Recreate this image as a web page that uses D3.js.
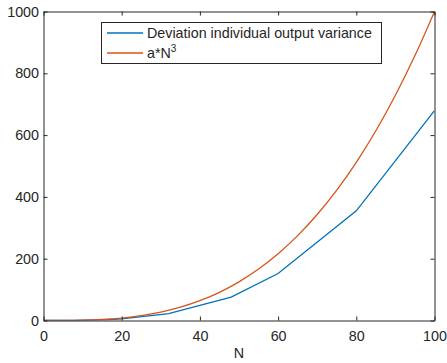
<!DOCTYPE html>
<html><head><meta charset="utf-8">
<script src="https://cdn.jsdelivr.net/npm/d3@7"></script>
<style>body{margin:0;background:#fff}svg{display:block}text{font-family:"Liberation Sans",Arial,sans-serif;fill:#262626}</style>
</head><body><div id="c"></div>
<script>
const devN = [0, 8, 16, 20, 32, 48, 60, 80, 100];
const devV = [0, 0.3, 2.5, 5, 22, 76, 152, 355, 679];
const fitN = [0, 5, 10, 15, 20, 25, 30, 35, 40, 45, 50, 55, 60, 65, 70, 75, 80, 85, 90, 95, 100];
const fitV = [0, 0.1, 1, 3.4, 8, 15.6, 27, 42.9, 64, 91.1, 125, 166.4, 216, 274.6, 343, 421.9, 512, 614.1, 729, 857.4, 1000];
const xTicks = [0, 20, 40, 60, 80, 100];
const yTicks = [0, 200, 400, 600, 800, 1000];
const legendLabels = ["Deviation individual output variance", "a*N"];
const colors = ["#0072BD", "#D95319"];

const W = 447, H = 363;
const L = 43.5, R = 434.5, T = 11.5, B = 320.5;
const svg = d3.select("#c").append("svg").attr("width", W).attr("height", H);
const x = d3.scaleLinear().domain([0, 100]).range([L, R]);
const y = d3.scaleLinear().domain([0, 1000]).range([B, T]);

const series = [d3.zip(devN, devV), d3.zip(fitN, fitV)];
const g = svg.append("g");
g.append("defs").append("clipPath").attr("id", "clip").append("rect")
  .attr("x", L).attr("y", T - 1).attr("width", R - L).attr("height", B - T + 1);
series.forEach((s, i) => {
  const ln = d3.line().x(d => x(d[0])).y(d => y(d[1]));
  if (i === 1) ln.curve(d3.curveMonotoneX);
  g.append("path").datum(s).attr("d", ln)
    .attr("fill", "none").attr("stroke", colors[i]).attr("stroke-width", 1.3)
    .attr("clip-path", "url(#clip)");
});

const ax = (sel, axis) => sel.call(axis).call(s => {
  s.select(".domain").attr("stroke", "#262626");
  s.selectAll(".tick line").attr("stroke", "#262626");
  s.selectAll("text").attr("fill", "#262626").style("font-size", "14.3px").attr("font-family", null);
});
ax(svg.append("g").attr("transform", `translate(0,${B})`),
  d3.axisBottom(x).tickValues(xTicks).tickSize(-4).tickPadding(10.5).tickSizeOuter(0).tickFormat(d3.format("d")));
ax(svg.append("g").attr("transform", `translate(0,${T})`),
  d3.axisTop(x).tickValues(xTicks).tickSize(-4).tickFormat("").tickSizeOuter(0));
ax(svg.append("g").attr("transform", `translate(${L},0)`),
  d3.axisLeft(y).tickValues(yTicks).tickSize(-4).tickPadding(4.5).tickSizeOuter(0).tickFormat(d3.format("d")));
ax(svg.append("g").attr("transform", `translate(${R},0)`),
  d3.axisRight(y).tickValues(yTicks).tickSize(-4).tickFormat("").tickSizeOuter(0));

svg.append("text").attr("x", x(50)).attr("y", 358).attr("text-anchor", "middle")
  .style("font-size", "14.3px").text("N");

// legend
const lg = svg.append("g");
lg.append("rect").attr("x", 101.5).attr("y", 22.5).attr("width", 280).attr("height", 41)
  .attr("fill", "#fff").attr("stroke", "#262626").attr("stroke-width", 1);
legendLabels.forEach((t, i) => {
  const yy = 33 + i * 20;
  lg.append("line").attr("x1", 107).attr("x2", 143).attr("y1", yy).attr("y2", yy)
    .attr("stroke", colors[i]).attr("stroke-width", 1.3);
  const tx = lg.append("text").attr("x", 147).attr("y", yy + 5).style("font-size", "14.3px").text(t);
  if (i === 1) tx.append("tspan").attr("dy", -6).style("font-size", "10px").text("3");
});
</script></body></html>
